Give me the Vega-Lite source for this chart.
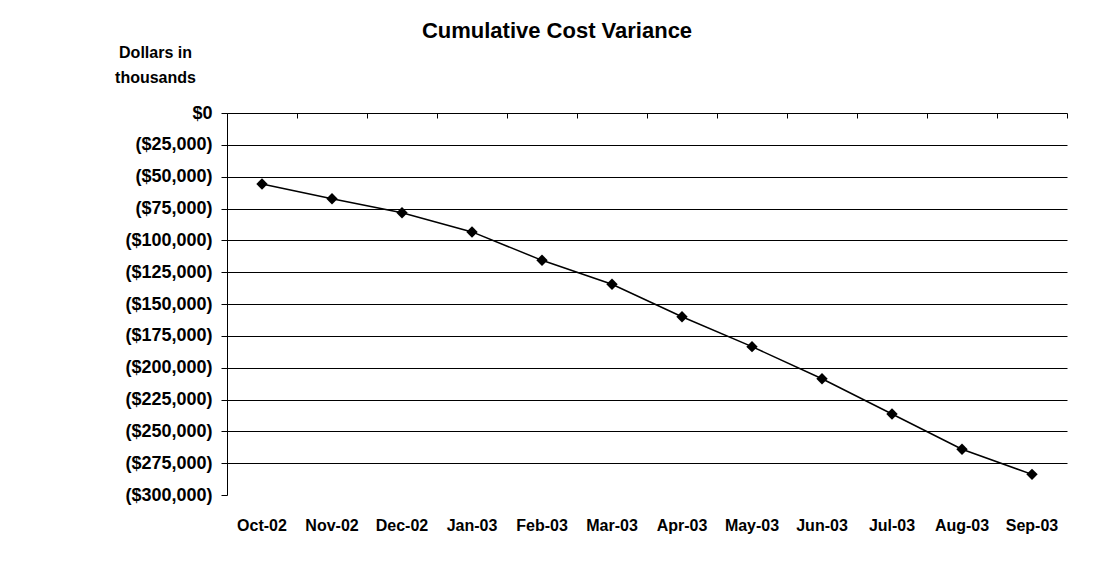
{
  "$schema": "https://vega.github.io/schema/vega-lite/v6.json",
  "autosize": "none",
  "padding": {"left": 227, "top": 113, "right": 42, "bottom": 66},
  "width": 840,
  "height": 382,
  "background": "white",
  "config": {
    "font": "Liberation Sans",
    "view": {"stroke": null},
    "axis": {"labelFont": "Liberation Sans", "titleFont": "Liberation Sans"}
  },
  "title": {
    "text": "Cumulative Cost Variance",
    "font": "Liberation Sans",
    "fontSize": 22,
    "fontWeight": "bold",
    "color": "black",
    "anchor": "middle",
    "dx": -90,
    "dy": 20,
    "baseline": "alphabetic",
    "offset": 4
  },
  "data": {
    "values": [
      {"month": "Oct-02", "variance": -55800},
      {"month": "Nov-02", "variance": -67300},
      {"month": "Dec-02", "variance": -78300},
      {"month": "Jan-03", "variance": -93400},
      {"month": "Feb-03", "variance": -115700},
      {"month": "Mar-03", "variance": -134500},
      {"month": "Apr-03", "variance": -160000},
      {"month": "May-03", "variance": -183500},
      {"month": "Jun-03", "variance": -208700},
      {"month": "Jul-03", "variance": -236400},
      {"month": "Aug-03", "variance": -264100},
      {"month": "Sep-03", "variance": -283800}
    ]
  },
  "resolve": {"axis": {"x": "independent", "y": "independent"}},
  "layer": [
    {
      "mark": {"type": "line", "color": "black", "strokeWidth": 1.5},
      "encoding": {
        "x": {
          "field": "month",
          "type": "ordinal",
          "sort": null,
          "scale": {"type": "band", "paddingInner": 0, "paddingOuter": 0},
          "axis": {
            "orient": "bottom",
            "title": null,
            "domain": false,
            "ticks": false,
            "grid": false,
            "labelAngle": 0,
            "labelFontSize": 16,
            "labelFontWeight": "bold",
            "labelColor": "black",
            "labelPadding": 22,
            "labelBaseline": "top"
          }
        },
        "y": {
          "field": "variance",
          "type": "quantitative",
          "scale": {"domain": [-300000, 0], "nice": false, "zero": false},
          "axis": {
            "values": [0, -25000, -50000, -75000, -100000, -125000, -150000, -175000, -200000, -225000, -250000, -275000, -300000],
            "format": "($,.0f",
            "title": ["Dollars in", "thousands"],
            "titleAngle": 0,
            "titleX": -72,
            "titleY": -69,
            "titleAlign": "center",
            "titleBaseline": "top",
            "titleFontSize": 16,
            "titleFontWeight": "bold",
            "titleLineHeight": 25,
            "titleColor": "black",
            "labelFontSize": 18,
            "labelFontWeight": "bold",
            "labelColor": "black",
            "labelPadding": 9,
            "tickSize": 6,
            "tickColor": "black",
            "domainColor": "black",
            "grid": true,
            "gridColor": "black",
            "gridOpacity": {"condition": {"test": "datum.value == -300000 || datum.value == 0", "value": 0}, "value": 1}
          }
        }
      }
    },
    {
      "mark": {"type": "point", "shape": "diamond", "filled": true, "color": "black", "size": 130, "opacity": 1},
      "encoding": {
        "x": {
          "field": "month",
          "type": "ordinal",
          "sort": null,
          "axis": {
            "orient": "top",
            "title": null,
            "labels": false,
            "domain": true,
            "domainColor": "black",
            "ticks": true,
            "tickSize": -5,
            "tickColor": "black",
            "tickBand": "extent",
            "grid": false
          }
        },
        "y": {"field": "variance", "type": "quantitative", "axis": null}
      }
    }
  ]
}
